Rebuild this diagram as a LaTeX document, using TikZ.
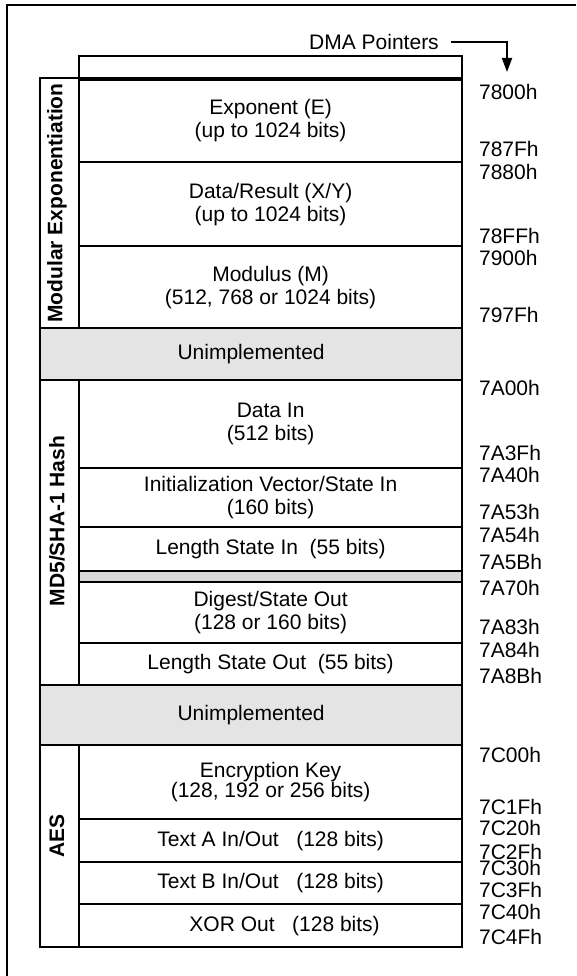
\documentclass[tikz,border=0pt]{standalone}
\usepackage{fontspec}
\setmainfont{Liberation Sans}
\usepackage{tikz}
\usetikzlibrary{arrows.meta,positioning}
\definecolor{unimplgray}{RGB}{228,228,228}
\definecolor{gapgray}{RGB}{216,216,216}

\begin{document}
\begin{tikzpicture}[x=1pt,y=-1pt,line width=2.2pt,
    every node/.style={font=\fontsize{21}{23}\selectfont},
    reg/.style={draw,anchor=north west,minimum width=383pt,inner sep=0pt,align=center},
    unimpl/.style={reg,fill=unimplgray,minimum width=422pt},
    grp/.style={draw,anchor=north west,minimum width=39pt,inner sep=0pt},
    grplbl/.style={rotate=90,font=\fontsize{21}{23}\selectfont\bfseries},
    addr/.style={anchor=west,inner sep=0pt}]
  \useasboundingbox (0,0) rectangle (576,976);
  \draw[line width=2pt] (7,976) -- (7,5) -- (576,5);
  % DMA pointer arrow
  \node (dma) at (374,42) {DMA Pointers};
  \coordinate (dmatip) at (507,72);
  \draw[line width=1.8pt,-{Triangle[length=14pt,width=10pt]}] ([xshift=8pt]dma.east) -| (dmatip);
  % modular exponentiation
  \node[reg,minimum height=22pt] (topbox) at (78,55) {};
  \draw[line width=4pt] (topbox.south west) -- (topbox.south east);
  \node[grp,minimum height=250pt] (modgrp) at (39,77) {};
  \node[reg,minimum height=84pt] (expo) at (78,77) {Exponent (E)\\(up to 1024 bits)};
  \node[reg,minimum height=84pt] (datares) at (78,161) {Data/Result (X/Y)\\(up to 1024 bits)};
  \node[reg,minimum height=82pt] (modulus) at (78,245) {Modulus (M)\\(512, 768 or 1024 bits)};
  \node[grplbl] (modlbl) at (57,203) {Modular Exponentiation};
  \node[unimpl,minimum height=52pt] (unimplA) at (39,327) {Unimplemented};
  % hash
  \node[grp,minimum height=305pt] (hashgrp) at (39,379) {};
  \node[reg,minimum height=88pt] (datain) at (78,379) {Data In\\(512 bits)};
  \node[reg,minimum height=59pt] (ivstate) at (78,467) {Initialization Vector/State In\\(160 bits)};
  \node[reg,minimum height=44pt] (lenin) at (78,526) {Length State In\ \ (55 bits)};
  \node[reg,fill=gapgray,minimum height=11pt] (gaprow) at (78,570) {};
  \node[reg,minimum height=61pt] (digest) at (78,581) {Digest/State Out\\(128 or 160 bits)};
  \node[reg,minimum height=42pt] (lenout) at (78,642) {Length State Out\ \ (55 bits)};
  \node[grplbl] (hashlbl) at (57,521) {MD5/SHA-1 Hash};
  \node[unimpl,minimum height=60pt] (unimplB) at (39,684) {Unimplemented};
  % aes
  \node[grp,minimum height=202pt] (aesgrp) at (39,744) {};
  \node[reg,minimum height=74pt] (enckey) at (78,744) {Encryption Key\\[-3pt](128, 192 or 256 bits)};
  \node[reg,minimum height=43pt] (texta) at (78,818) {Text A In/Out\ \ \ (128 bits)};
  \node[reg,minimum height=42pt] (textb) at (78,861) {Text B In/Out\ \ \ (128 bits)};
  \node[reg,minimum height=43pt] (xorout) at (78,903) {\hspace*{28pt}XOR Out\ \ \ (128 bits)};
  \node[grplbl] (aeslbl) at (57,836) {AES};
  % addresses
  \foreach \a/\y in {7800h/92,787Fh/149,7880h/172,78FFh/236,7900h/258,797Fh/315,
      7A00h/388,7A3Fh/453,7A40h/475,7A53h/512,7A54h/535,7A5Bh/562,7A70h/588,
      7A83h/627,7A84h/650,7A8Bh/676,7C00h/755,7C1Fh/807,7C20h/828,7C2Fh/852,
      7C30h/868,7C3Fh/890,7C40h/912,7C4Fh/937}
    \node[addr] (a\a) at (478,\y) {\a};
\end{tikzpicture}
\end{document}
